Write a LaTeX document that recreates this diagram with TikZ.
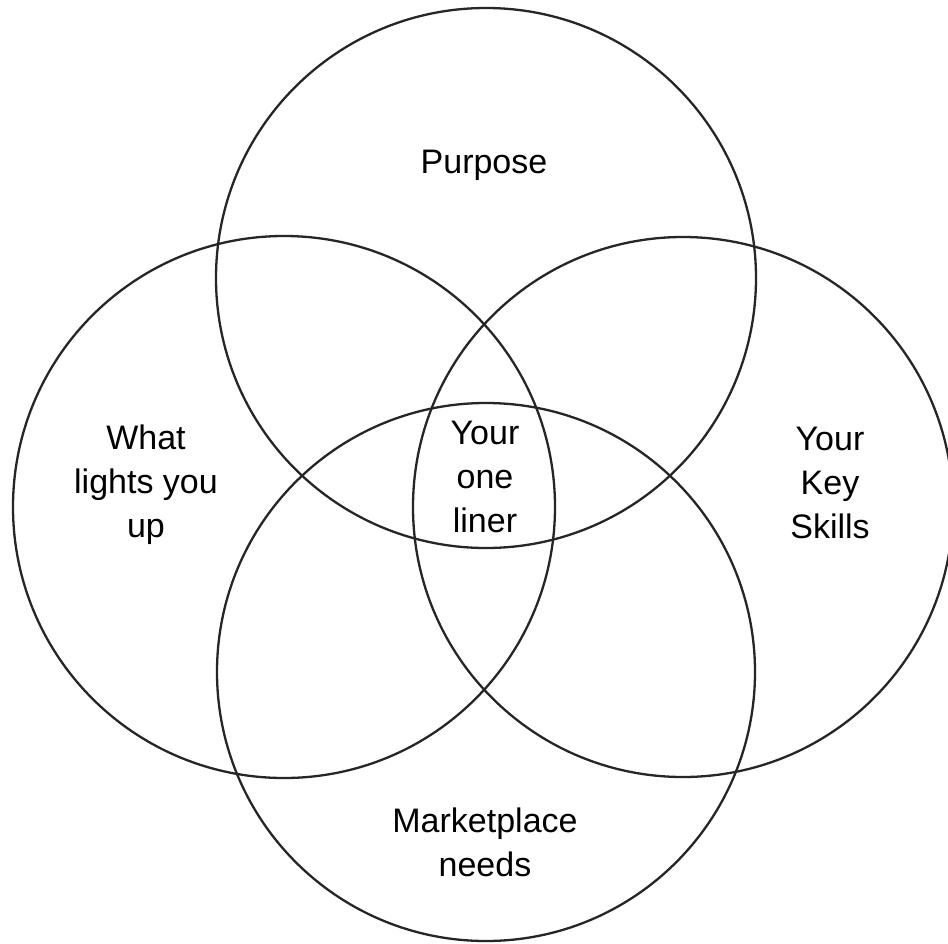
\documentclass[tikz,border=0pt]{standalone}
\usepackage{fontspec}
\setmainfont{Liberation Sans}
\begin{document}
\begin{tikzpicture}[x=1pt,y=-1pt,
  ring/.style={draw=black!85,line width=2.3pt},
  lbl/.style={font=\fontsize{34}{44}\selectfont,align=center,inner sep=0pt}]
\useasboundingbox (0,0) rectangle (948,943);
\fill[white] (0,0) rectangle (948,943);
\draw[ring] (486,278) circle (270) coordinate (cTop);
\draw[ring] (284,507) circle (271) coordinate (cLeft);
\draw[ring] (683,507) circle (270) coordinate (cRight);
\draw[ring] (486,672) circle (269) coordinate (cBottom);
\node[lbl] (purpose) at (484,165) {Purpose};
\node[lbl] (lights) at (146,485) {What\\lights you\\up};
\node[lbl] (skills) at (830,483) {Your\\Key\\Skills};
\node[lbl] (liner) at (485,477) {Your\\one\\liner};
\node[lbl] (market) at (485,842) {Marketplace\\needs};
\end{tikzpicture}
\end{document}
